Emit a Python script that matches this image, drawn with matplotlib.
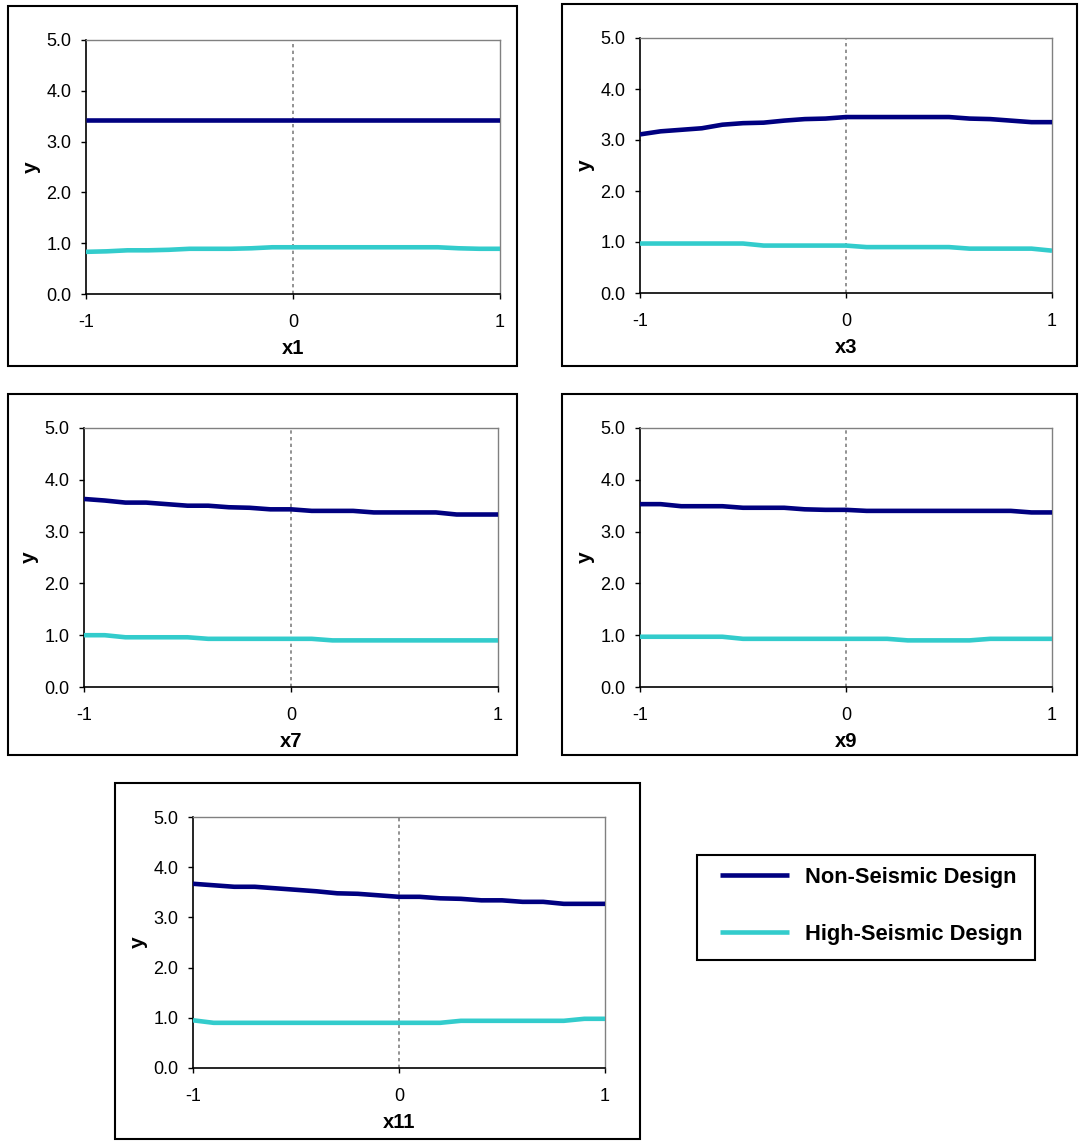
import numpy as np
import matplotlib
matplotlib.use("Agg")
import matplotlib.pyplot as plt
from matplotlib.patches import Rectangle

plt.rcParams['font.family'] = ['Liberation Sans', 'DejaVu Sans']

# shared x grid (coded factor level)
x = np.round(np.arange(-1.0, 1.01, 0.1), 2)

labels = ["x1", "x3", "x7", "x9", "x11"]

non_x1 = [3.43] * 21
high_x1 = [0.83, 0.84, 0.86, 0.86, 0.87, 0.89, 0.89, 0.89, 0.90, 0.92, 0.92,
           0.92, 0.92, 0.92, 0.92, 0.92, 0.92, 0.92, 0.90, 0.89, 0.89]

non_x3 = [3.11, 3.17, 3.20, 3.23, 3.30, 3.33, 3.34, 3.38, 3.41, 3.42, 3.45,
          3.45, 3.45, 3.45, 3.45, 3.45, 3.42, 3.41, 3.38, 3.35, 3.35]
high_x3 = [0.97, 0.97, 0.97, 0.97, 0.97, 0.97, 0.93, 0.93, 0.93, 0.93, 0.93,
           0.90, 0.90, 0.90, 0.90, 0.90, 0.87, 0.87, 0.87, 0.87, 0.83]

non_x7 = [3.63, 3.60, 3.56, 3.56, 3.53, 3.50, 3.50, 3.47, 3.46, 3.43, 3.43,
          3.40, 3.40, 3.40, 3.37, 3.37, 3.37, 3.37, 3.33, 3.33, 3.33]
high_x7 = [1.00, 1.00, 0.96, 0.96, 0.96, 0.96, 0.93, 0.93, 0.93, 0.93, 0.93,
           0.93, 0.90, 0.90, 0.90, 0.90, 0.90, 0.90, 0.90, 0.90, 0.90]

non_x9 = [3.53, 3.53, 3.49, 3.49, 3.49, 3.46, 3.46, 3.46, 3.43, 3.42, 3.42,
          3.40, 3.40, 3.40, 3.40, 3.40, 3.40, 3.40, 3.40, 3.37, 3.37]
high_x9 = [0.97, 0.97, 0.97, 0.97, 0.97, 0.93, 0.93, 0.93, 0.93, 0.93, 0.93,
           0.93, 0.93, 0.90, 0.90, 0.90, 0.90, 0.93, 0.93, 0.93, 0.93]

non_x11 = [3.67, 3.64, 3.61, 3.61, 3.58, 3.55, 3.52, 3.48, 3.47, 3.44, 3.41,
           3.41, 3.38, 3.37, 3.34, 3.34, 3.31, 3.31, 3.27, 3.27, 3.27]
high_x11 = [0.95, 0.90, 0.90, 0.90, 0.90, 0.90, 0.90, 0.90, 0.90, 0.90, 0.90,
            0.90, 0.90, 0.94, 0.94, 0.94, 0.94, 0.94, 0.94, 0.98, 0.98]

non_series = [non_x1, non_x3, non_x7, non_x9, non_x11]
high_series = [high_x1, high_x3, high_x7, high_x9, high_x11]

NAVY = "#000080"
TURQ = "#33CCCC"

W, H = 1079, 1141
fig = plt.figure(figsize=(W / 100, H / 100), dpi=100)

# boxes in pixels: left, top, right, bottom
ax_px = [(86, 40, 500, 294), (640, 38, 1052, 293), (84, 428, 498, 687),
         (640, 428, 1052, 687), (193, 817, 605, 1068)]
frame_px = [(8, 6, 517, 366), (562, 4, 1077, 366), (8, 394, 517, 755),
            (562, 394, 1077, 755), (115, 783, 640, 1139)]
legend_px = (697, 855, 1035, 960)


def add_frame(box):
    fl, ft, fr, fb = box
    fig.patches.append(Rectangle((fl / W, 1 - fb / H), (fr - fl) / W, (fb - ft) / H,
                                 transform=fig.transFigure, fill=False,
                                 edgecolor="black", lw=1.5))


lines = []
for i in range(5):
    l, t, r, b = ax_px[i]
    ax = fig.add_axes([l / W, 1 - b / H, (r - l) / W, (b - t) / H])
    ax.axvline(0, color="#808080", lw=1.2, ls=(0, (2, 2)), zorder=1)
    ln1, = ax.plot(x, non_series[i], color=NAVY, lw=3.3, label="Non-Seismic Design",
                   solid_capstyle="butt", zorder=3)
    ln2, = ax.plot(x, high_series[i], color=TURQ, lw=3.3, label="High-Seismic Design",
                   solid_capstyle="butt", zorder=3)
    lines = [ln1, ln2]
    ax.set_xlim(-1, 1)
    ax.set_ylim(0, 5)
    ax.set_xticks([-1, 0, 1])
    ax.set_xticklabels(["-1", "0", "1"])
    ax.set_yticks(np.arange(0, 5.1, 1.0))
    ax.set_yticklabels(["%.1f" % v for v in np.arange(0, 5.1, 1.0)])
    ax.tick_params(axis="x", labelsize=13, direction="out", length=3.5, width=1, pad=11)
    ax.tick_params(axis="y", labelsize=13, direction="out", length=3.5, width=1, pad=7)
    for s in ["top", "right"]:
        ax.spines[s].set_color("#808080")
        ax.spines[s].set_linewidth(1)
    for s in ["left", "bottom"]:
        ax.spines[s].set_color("black")
        ax.spines[s].set_linewidth(1.2)
    ax.set_xlabel(labels[i], fontsize=14.5, fontweight="bold", labelpad=6)
    ax.set_ylabel("y", fontsize=15, fontweight="bold", labelpad=4)
    add_frame(frame_px[i])

add_frame(legend_px)
leg = fig.legend(handles=lines, loc="upper left",
                 bbox_to_anchor=(720 / W, 1 - 867 / H),
                 prop={"size": 15.75, "weight": "bold"},
                 frameon=False, handlelength=3.15, handletextpad=0.73,
                 labelspacing=1.63, borderpad=0, borderaxespad=0)

fig.savefig("out.png", dpi=100, facecolor="white")
